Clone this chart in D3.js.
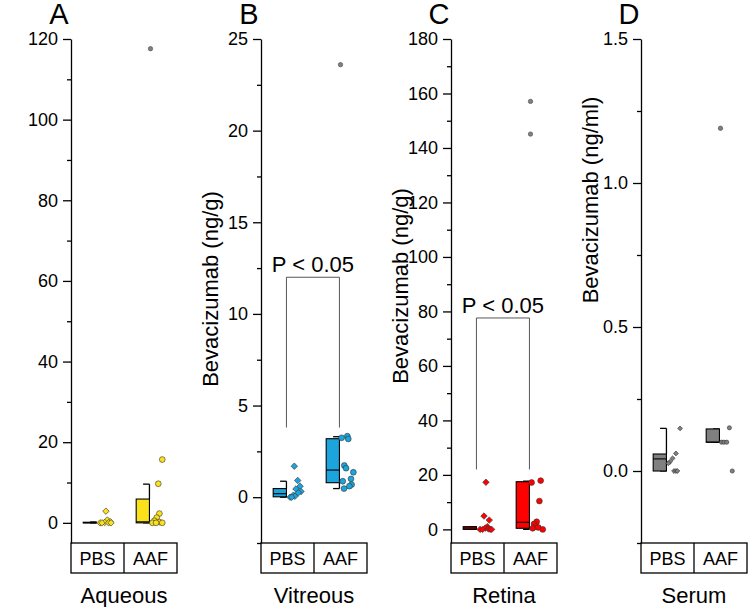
<!DOCTYPE html>
<html>
<head>
<meta charset="utf-8">
<script src="https://cdn.jsdelivr.net/npm/d3@7"></script>
<style>
  body { margin: 0; background: #fff; }
  svg { display: block; }
  text { font-family: Arial, "Liberation Sans", sans-serif; fill: #000; }
</style>
</head>
<body>
<svg id="chart" width="749" height="607"></svg>
<script>
// groups and labels
var categories = ["PBS", "AAF"];
var panelLetters = ["A", "B", "C", "D"];
var tissues = ["Aqueous", "Vitreous", "Retina", "Serum"];
var yTitles = ["", "Bevacizumab (ng/g)", "Bevacizumab (ng/g)", "Bevacizumab (ng/ml)"];
var colors = ["#fbe01c", "#1ca4dd", "#ff0000", "#808080"];

// axis ranges and tick labels
var yDomains = [[-5, 120], [-2.5, 25], [-5, 180], [-0.25, 1.5]];
var majorTicks = [
  [0, 20, 40, 60, 80, 100, 120],
  [0, 5, 10, 15, 20, 25],
  [0, 20, 40, 60, 80, 100, 120, 140, 160, 180],
  [0, 0.5, 1.0, 1.5]
];
var minorTicks = [
  [10, 30, 50, 70, 90, 110],
  [-2.5, 2.5, 7.5, 12.5, 17.5, 22.5],
  [10, 30, 50, 70, 90, 110, 130, 150, 170],
  [-0.25, 0.25, 0.75, 1.25]
];
var tickFormats = ["d", "d", "d", ".1f"];

// box stats: [low whisker, q1, median, q3, high whisker]
var pbsBoxes = [
  [0, 0, 0, 0.15, 0.2],
  [0, 0.02, 0.19, 0.47, 0.87],
  [0, 0, 0.5, 1.0, 1.0],
  [0, 0, 0.042, 0.059, 0.148]
];
var aafBoxes = [
  [0, 0, 0.25, 5.9, 9.6],
  [0.47, 0.79, 1.48, 3.19, 3.3],
  [0, 0.4, 2.6, 17.5, 17.7],
  [0.1, 0.1, 0.1, 0.146, 0.146]
];

// individual animals: [value, jitter 0..1]
var aqueousPBS = [[2.9, 0.53], [0.7, 0.62], [0.3, 0.8], [0.1, 0.45], [0, 0.16], [0, 0.28], [0, 0.7], [0, 0.85]];
var aqueousAAF = [[15.7, 0.74], [9.7, 0.49], [2.3, 0.56], [1.3, 0.39], [0.5, 0.24], [0.2, 0.56], [0, 0.12], [0, 0.35], [0, 0.74]];
var vitreousPBS = [[1.69, 0.43], [0.91, 0.64], [0.6, 0.79], [0.45, 0.53], [0.31, 0.85], [0.24, 0.68], [0.11, 0.37], [0.05, 0.47], [0, 0.16], [0, 0.26]];
var vitreousAAF = [[3.24, 0.07], [3.33, 0.43], [3.18, 0.49], [1.73, 0.24], [1.58, 0.35], [1.36, 0.81], [1.0, 0.66], [0.87, 0.14], [0.69, 0.7], [0.6, 0.56], [0.47, 0.22]];
var retinaPBS = [[17.3, 0.53], [4.9, 0.41], [3.4, 0.74], [1.0, 0.62], [0.5, 0.49], [0.2, 0.68], [0, 0.16], [0, 0.32], [0, 0.79], [0, 0.89]];
var retinaAAF = [[17.9, 0.64], [17.2, 0.07], [10.4, 0.56], [2.8, 0.39], [2.0, 0.22], [1.0, 0.35], [0.7, 0.49], [0.4, 0.14], [0, 0.77]];
var serumPBS = [[0.148, 0.79], [0.061, 0.53], [0.044, 0.32], [0.032, 0.16], [0.027, 0.05], [0, 0.41], [0, 0.53], [0, 0.62]];
var serumAAF = [[0.15, 0.56], [0.1, 0.07], [0.1, 0.22], [0.1, 0.39], [0, 0.74]];

var pbsPoints = [aqueousPBS, vitreousPBS, retinaPBS, serumPBS];
var aafPoints = [aqueousAAF, vitreousAAF, retinaAAF, serumAAF];

// outliers (AAF group)
var outliers = [[117.6], [23.6], [157.1, 145.1], [1.19]];

// significance brackets
var sigTop = [null, 12.0, 77.6, null];
var sigBase = [null, 3.8, 22, null];
var sigText = "P < 0.05";

var svg = d3.select("#chart");
var plotTop = 39, plotBottom = 543, panelW = 106, step = 190, left0 = 71;
var titleY = [0, 289, 286, 200];

panelLetters.forEach(function(letter, p) {
  var x0 = left0 + step * p;
  var y = d3.scaleLinear().domain(yDomains[p]).range([plotBottom, plotTop]);
  var x = d3.scaleBand().domain(categories).range([x0, x0 + panelW]);
  var bw = x.bandwidth();
  var g = svg.append("g");
  var small = p === 3;

  // panel letter
  g.append("text")
    .attr("x", x0 - 12).attr("y", 24)
    .attr("text-anchor", "middle")
    .style("font-size", "29px")
    .text(letter);

  // y axis with major and minor ticks
  g.append("g")
    .attr("transform", "translate(" + x0 + ",0)")
    .call(d3.axisLeft(y).tickValues(minorTicks[p]).tickSize(4).tickFormat(""))
    .call(function(a) { a.select(".domain").remove(); a.selectAll("line").attr("stroke-width", 1.3); });

  var ax = g.append("g")
    .attr("transform", "translate(" + x0 + ",0)")
    .call(d3.axisLeft(y).tickValues(majorTicks[p]).tickSize(8).tickSizeOuter(0).tickPadding(5)
      .tickFormat(d3.format(tickFormats[p])));
  ax.select(".domain").attr("stroke-width", 1.3);
  ax.selectAll("line").attr("stroke-width", 1.3);
  ax.selectAll("text").style("font-size", "18px").style("font-family", "Arial, 'Liberation Sans', sans-serif");

  // y title
  if (yTitles[p]) {
    g.append("text")
      .attr("transform", "translate(" + (x0 - 51) + "," + titleY[p] + ") rotate(-90)")
      .attr("text-anchor", "middle")
      .attr("dy", "0.35em")
      .style("font-size", "22px")
      .text(yTitles[p]);
  }

  // category box under the plot
  g.append("rect")
    .attr("x", x0).attr("y", plotBottom)
    .attr("width", panelW).attr("height", 30)
    .attr("fill", "none").attr("stroke", "#000").attr("stroke-width", 1.3);
  g.append("line")
    .attr("x1", x0 + bw).attr("x2", x0 + bw)
    .attr("y1", plotBottom).attr("y2", plotBottom + 30)
    .attr("stroke", "#000").attr("stroke-width", 1.3);
  g.selectAll(".cat")
    .data(categories)
    .enter().append("text")
    .attr("x", function(d) { return x(d) + bw / 2; })
    .attr("y", plotBottom + 22)
    .attr("text-anchor", "middle")
    .style("font-size", "18px")
    .text(function(d) { return d; });
  g.append("text")
    .attr("x", x0 + panelW / 2).attr("y", 603)
    .attr("text-anchor", "middle")
    .style("font-size", "22px")
    .text(tissues[p]);

  // boxes + whiskers
  [[categories[0], pbsBoxes[p]], [categories[1], aafBoxes[p]]].forEach(function(b) {
    var s = b[1];
    var bx0 = x(b[0]) + bw * 0.23, bx1 = x(b[0]) + bw * 0.48;
    var capL = bx1 - (bx1 - bx0) * 0.48;
    var wk = g.append("g").attr("stroke", "#000").attr("stroke-width", 1.3).attr("fill", "none");
    wk.append("line").attr("x1", bx1).attr("x2", bx1).attr("y1", y(s[3])).attr("y2", y(s[4]));
    wk.append("line").attr("x1", capL).attr("x2", bx1).attr("y1", y(s[4])).attr("y2", y(s[4]));
    wk.append("line").attr("x1", bx1).attr("x2", bx1).attr("y1", y(s[1])).attr("y2", y(s[0]));
    wk.append("line").attr("x1", capL).attr("x2", bx1).attr("y1", y(s[0])).attr("y2", y(s[0]));
    g.append("rect")
      .attr("x", bx0).attr("y", y(s[3]))
      .attr("width", bx1 - bx0)
      .attr("height", Math.max(y(s[1]) - y(s[3]), 0.5))
      .attr("fill", colors[p]).attr("stroke", "#000").attr("stroke-width", 1.1);
    g.append("line")
      .attr("x1", bx0).attr("x2", bx1)
      .attr("y1", y(s[2])).attr("y2", y(s[2]))
      .attr("stroke", "#000").attr("stroke-width", 1.1);
  });

  // data points
  var diamond = d3.symbol().type(d3.symbolSquare).size(small ? 12 : 21);
  var jx = function(cat) {
    return d3.scaleLinear().domain([0, 1]).range([x(cat) + bw * 0.5, x(cat) + bw * 0.8]);
  };
  var jp = jx(categories[0]), ja = jx(categories[1]);
  g.selectAll(".pbs")
    .data(pbsPoints[p])
    .enter().append("path")
    .attr("d", diamond)
    .attr("transform", function(d) { return "translate(" + jp(d[1]) + "," + y(d[0]) + ") rotate(45)"; })
    .attr("fill", colors[p]).attr("stroke", "#333").attr("stroke-width", 0.6);
  g.selectAll(".aaf")
    .data(aafPoints[p])
    .enter().append("circle")
    .attr("cx", function(d) { return ja(d[1]); })
    .attr("cy", function(d) { return y(d[0]); })
    .attr("r", small ? 2.1 : 2.9)
    .attr("fill", colors[p]).attr("stroke", "#333").attr("stroke-width", 0.6);

  // outliers
  g.selectAll(".out")
    .data(outliers[p])
    .enter().append("circle")
    .attr("cx", x(categories[1]) + bw / 2)
    .attr("cy", function(d) { return y(d); })
    .attr("r", 2.2)
    .attr("fill", "#808080").attr("stroke", "#444").attr("stroke-width", 0.6);

  // significance bracket
  if (sigTop[p] != null) {
    var lx = x(categories[0]) + bw * 0.48, rx = x(categories[1]) + bw * 0.48;
    g.append("path")
      .attr("d", d3.line()([[lx, y(sigBase[p])], [lx, y(sigTop[p])], [rx, y(sigTop[p])], [rx, y(sigBase[p])]]))
      .attr("fill", "none").attr("stroke", "#444").attr("stroke-width", 0.9);
    g.append("text")
      .attr("x", (lx + rx) / 2).attr("y", y(sigTop[p]) - 5)
      .attr("text-anchor", "middle")
      .style("font-size", "22px")
      .text(sigText);
  }
});
</script>
</body>
</html>
